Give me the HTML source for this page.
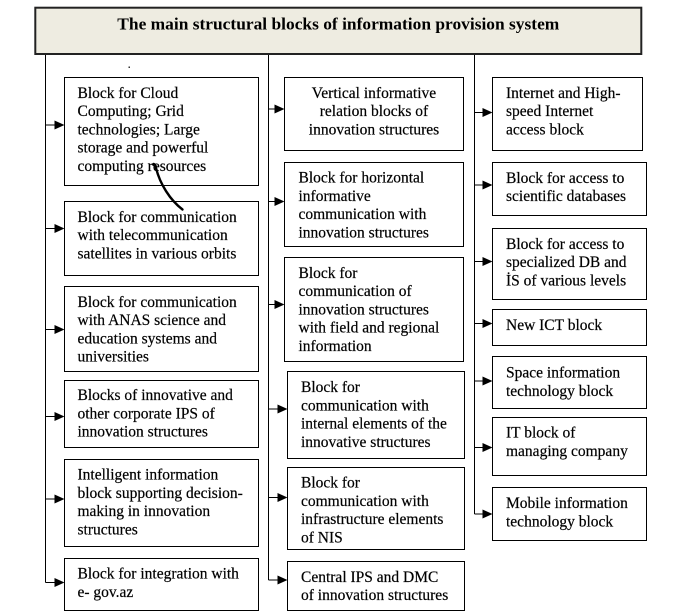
<!DOCTYPE html>
<html>
<head>
<meta charset="utf-8">
<style>
  html, body { margin: 0; padding: 0; background: #ffffff; }
  body { width: 700px; height: 616px; overflow: hidden; }
  svg { display: block; }
  .t { font-family: "Liberation Serif", "DejaVu Serif", serif; font-size: 15.5px; fill: #000; stroke: #000; stroke-width: 0.2; }
  .title { font-family: "Liberation Serif", "DejaVu Serif", serif; font-size: 17.3px; font-weight: bold; fill: #000; }
  .box { fill: #fff; stroke: #000; stroke-width: 1; }
  .ln { stroke: #000; stroke-width: 1; fill: none; }
</style>
</head>
<body>
<svg width="700" height="616" viewBox="0 0 700 616" xmlns="http://www.w3.org/2000/svg">
  <!-- Header -->
  <rect x="35.3" y="7.7" width="606" height="46.3" fill="#eeece1" stroke="#222" stroke-width="2"/>
  <text class="title" x="338.3" y="29.5" text-anchor="middle" textLength="442" lengthAdjust="spacingAndGlyphs">The main structural blocks of information provision system</text>

  <!-- small dot -->
  <rect x="128.5" y="66.5" width="1.5" height="1.5" fill="#333"/>

  <!-- Vertical trunk lines -->
  <line class="ln" x1="45.5" y1="55" x2="45.5" y2="582.5" stroke="#444"/>
  <line class="ln" x1="268.5" y1="55" x2="268.5" y2="580"/>
  <line class="ln" x1="474.5" y1="55" x2="474.5" y2="514"/>

  <!-- Left column arrows -->
  <g fill="#000">
    <line class="ln" x1="45.5" y1="125" x2="55" y2="125"/><polygon points="54.5,120.5 64.5,125 54.5,129.5"/>
    <line class="ln" x1="45.5" y1="228.5" x2="55" y2="228.5"/><polygon points="54.5,224 64.5,228.5 54.5,233"/>
    <line class="ln" x1="45.5" y1="329.5" x2="55" y2="329.5"/><polygon points="54.5,325 64.5,329.5 54.5,334"/>
    <line class="ln" x1="45.5" y1="416.5" x2="55" y2="416.5"/><polygon points="54.5,412 64.5,416.5 54.5,421"/>
    <line class="ln" x1="45.5" y1="499" x2="55" y2="499"/><polygon points="54.5,494.5 64.5,499 54.5,503.5"/>
    <line class="ln" x1="45.5" y1="582.5" x2="55" y2="582.5"/><polygon points="54.5,578 64.5,582.5 54.5,587"/>
  </g>

  <!-- Middle column arrows -->
  <g fill="#000">
    <line class="ln" x1="268.5" y1="109" x2="275" y2="109"/><polygon points="274.5,104.5 284.5,109 274.5,113.5"/>
    <line class="ln" x1="268.5" y1="201.5" x2="275" y2="201.5"/><polygon points="274.5,197 284.5,201.5 274.5,206"/>
    <line class="ln" x1="268.5" y1="304.5" x2="275" y2="304.5"/><polygon points="274.5,300 284.5,304.5 274.5,309"/>
    <line class="ln" x1="268.5" y1="409" x2="278" y2="409"/><polygon points="277.5,404.5 287.5,409 277.5,413.5"/>
    <line class="ln" x1="268.5" y1="497.5" x2="278" y2="497.5"/><polygon points="277.5,493 287.5,497.5 277.5,502"/>
    <line class="ln" x1="268.5" y1="580" x2="278" y2="580"/><polygon points="277.5,575.5 287.5,580 277.5,584.5"/>
  </g>

  <!-- Right column arrows -->
  <g fill="#000">
    <line class="ln" x1="474.5" y1="112.5" x2="483" y2="112.5"/><polygon points="482.5,108 492.5,112.5 482.5,117"/>
    <line class="ln" x1="474.5" y1="185" x2="483" y2="185"/><polygon points="482.5,180.5 492.5,185 482.5,189.5"/>
    <line class="ln" x1="474.5" y1="261.5" x2="483" y2="261.5"/><polygon points="482.5,257 492.5,261.5 482.5,266"/>
    <line class="ln" x1="474.5" y1="323.5" x2="483" y2="323.5"/><polygon points="482.5,319 492.5,323.5 482.5,328"/>
    <line class="ln" x1="474.5" y1="381" x2="483" y2="381"/><polygon points="482.5,376.5 492.5,381 482.5,385.5"/>
    <line class="ln" x1="474.5" y1="447.5" x2="483" y2="447.5"/><polygon points="482.5,443 492.5,447.5 482.5,452"/>
    <line class="ln" x1="474.5" y1="514" x2="483" y2="514"/><polygon points="482.5,509.5 492.5,514 482.5,518.5"/>
  </g>

  <!-- Left column boxes -->
  <rect class="box" x="64.5" y="77.5" width="194" height="108"/>
  <text class="t" x="77.5" y="97.8">Block for Cloud</text>
  <text class="t" x="77.5" y="116.1">Computing; Grid</text>
  <text class="t" x="77.5" y="134.4">technologies; Large</text>
  <text class="t" x="77.5" y="152.7">storage and powerful</text>
  <text class="t" x="77.5" y="171">computing resources</text>

  <rect class="box" x="64.5" y="201.5" width="194" height="74"/>
  <text class="t" x="77.5" y="221.8">Block for communication</text>
  <text class="t" x="77.5" y="240.1">with telecommunication</text>
  <text class="t" x="77.5" y="258.4">satellites in various orbits</text>

  <rect class="box" x="64.5" y="286.5" width="194" height="85"/>
  <text class="t" x="77.5" y="306.8">Block for communication</text>
  <text class="t" x="77.5" y="325.1">with ANAS science and</text>
  <text class="t" x="77.5" y="343.4">education systems and</text>
  <text class="t" x="77.5" y="361.7">universities</text>

  <rect class="box" x="64.5" y="380.5" width="194" height="67"/>
  <text class="t" x="77.5" y="400">Blocks of innovative and</text>
  <text class="t" x="77.5" y="418.3">other corporate IPS of</text>
  <text class="t" x="77.5" y="436.6">innovation structures</text>

  <rect class="box" x="64.5" y="459.5" width="194" height="87"/>
  <text class="t" x="77.5" y="479.5">Intelligent information</text>
  <text class="t" x="77.5" y="497.8">block supporting decision-</text>
  <text class="t" x="77.5" y="516.1">making in innovation</text>
  <text class="t" x="77.5" y="534.4">structures</text>

  <rect class="box" x="64.5" y="558.5" width="194" height="52"/>
  <text class="t" x="77.5" y="578.6">Block for integration with</text>
  <text class="t" x="77.5" y="596.9">e- gov.az</text>

  <!-- Curved connector -->
  <path d="M154,165 C152,163 156,164 156,168 C160,184 170,200 182.5,209.5" fill="none" stroke="#000" stroke-width="2.4" stroke-linecap="round"/>

  <!-- Middle column boxes -->
  <rect class="box" x="284.5" y="77.5" width="179" height="73"/>
  <text class="t" x="374" y="97.8" text-anchor="middle">Vertical informative</text>
  <text class="t" x="374" y="116.1" text-anchor="middle">relation blocks of</text>
  <text class="t" x="374" y="134.4" text-anchor="middle">innovation structures</text>

  <rect class="box" x="284.5" y="162.5" width="179" height="84"/>
  <text class="t" x="298.5" y="182.6">Block for horizontal</text>
  <text class="t" x="298.5" y="200.9">informative</text>
  <text class="t" x="298.5" y="219.2">communication with</text>
  <text class="t" x="298.5" y="237.5">innovation structures</text>

  <rect class="box" x="284.5" y="257.5" width="179" height="104"/>
  <text class="t" x="298.5" y="277.8">Block for</text>
  <text class="t" x="298.5" y="296.1">communication of</text>
  <text class="t" x="298.5" y="314.4">innovation structures</text>
  <text class="t" x="298.5" y="332.7">with field and regional</text>
  <text class="t" x="298.5" y="351">information</text>

  <rect class="box" x="287.5" y="371.5" width="177" height="87"/>
  <text class="t" x="301" y="392">Block for</text>
  <text class="t" x="301" y="410.3">communication with</text>
  <text class="t" x="301" y="428.6">internal elements of the</text>
  <text class="t" x="301" y="446.9">innovative structures</text>

  <rect class="box" x="287.5" y="467.5" width="177" height="82"/>
  <text class="t" x="301" y="487.6">Block for</text>
  <text class="t" x="301" y="505.9">communication with</text>
  <text class="t" x="301" y="524.2">infrastructure elements</text>
  <text class="t" x="301" y="542.5">of NIS</text>

  <rect class="box" x="287.5" y="561.5" width="177" height="49"/>
  <text class="t" x="301" y="581.8">Central IPS and DMC</text>
  <text class="t" x="301" y="600.1">of innovation structures</text>

  <!-- Right column boxes -->
  <rect class="box" x="492.5" y="77.5" width="150" height="73"/>
  <text class="t" x="506" y="97.8">Internet and High-</text>
  <text class="t" x="506" y="116.1">speed Internet</text>
  <text class="t" x="506" y="134.4">access block</text>

  <rect class="box" x="492.5" y="162.5" width="154" height="53"/>
  <text class="t" x="506" y="182.8">Block for access to</text>
  <text class="t" x="506" y="201.1">scientific databases</text>

  <rect class="box" x="492.5" y="228.5" width="154" height="71"/>
  <text class="t" x="506" y="248.8">Block for access to</text>
  <text class="t" x="506" y="267.1">specialized DB and</text>
  <text class="t" x="506" y="285.4">İS of various levels</text>

  <rect class="box" x="492.5" y="309.5" width="154" height="36"/>
  <text class="t" x="506" y="330.2">New ICT block</text>

  <rect class="box" x="492.5" y="356.5" width="154" height="52"/>
  <text class="t" x="506" y="377.6">Space information</text>
  <text class="t" x="506" y="395.9">technology block</text>

  <rect class="box" x="492.5" y="417.5" width="154" height="58"/>
  <text class="t" x="506" y="437.6">IT block of</text>
  <text class="t" x="506" y="455.9">managing company</text>

  <rect class="box" x="492.5" y="487.5" width="154" height="53"/>
  <text class="t" x="506" y="508">Mobile information</text>
  <text class="t" x="506" y="526.3">technology block</text>
</svg>
</body>
</html>
